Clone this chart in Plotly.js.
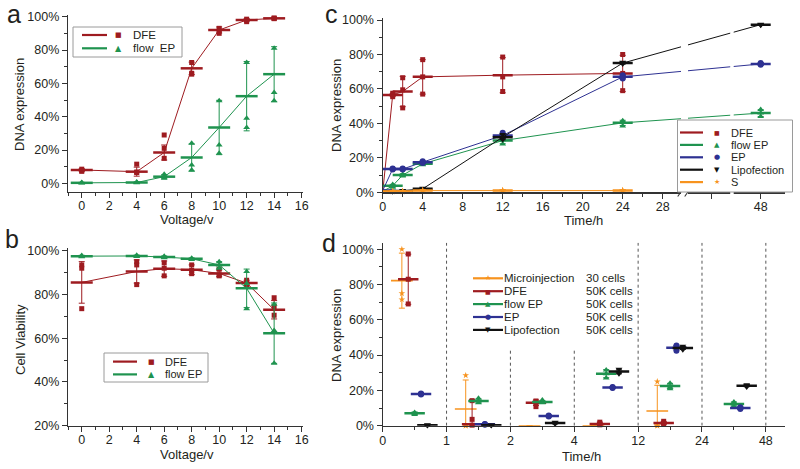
<!DOCTYPE html>
<html><head><meta charset="utf-8">
<script src="https://cdn.plot.ly/plotly-3.0.1.min.js"></script>
<style>html,body{margin:0;padding:0;background:#fff}#chart{width:800px;height:469px}</style>
</head><body><div id="chart"></div>
<script>
// ================= DATA =================
// Panel a: DNA expression vs voltage
const aVoltage = [0, 4, 6, 8, 10, 12, 14];
const aPtsV = [0,0,0, 4,4,4, 6,6,6, 8,8,8, 10,10,10, 12,12,12, 14,14,14];
const aDfeMean = [8, 7, 18.5, 69, 92, 98, 99];
const aDfeErr = [0.8, 2.7, 4.5, 3.7, 1.8, 0.8, 0.3];
const aDfePts = [8.5,7.6,7.2, 11.5,6.8,6.5, 29,21,15, 72.5,66,65.5, 93,91.5,90, 98.5,97.8,97, 99.2,99,98.8];
const aFepMean = [0.3, 0.5, 4, 15.5, 33.5, 52.3, 65.5];
const aFepErr = [0.3, 0.4, 1.2, 8.2, 16.3, 20.8, 16.5];
const aFepPts = [0.5,0.3,0.2, 0.8,0.5,0.3, 5.5,4,3, 24,11,8, 49.5,23,18, 72.5,39,33.5, 81,54.5,49.5];

// Panel b: cell viability vs voltage
const bDfeMean = [85.5, 90.5, 91.8, 91.3, 89.6, 85.2, 73];
const bDfeErr = [9.5, 5.3, 3.5, 2.2, 1.5, 1.3, 4.2];
const bDfePts = [93.5,92,73.5, 95,93.5,84.5, 94.5,92,88.5, 93.5,91,89.5, 91.5,89,88.5, 86.5,85,84, 78.5,74.5,70.5];
const bFepMean = [97.5, 97.6, 97.1, 96.3, 93.5, 82.8, 62.3];
const bFepErr = [0.4, 0.4, 0.5, 0.4, 1.5, 8.8, 13.8];
const bFepPts = [97.8,97.5,97.2, 97.9,97.6,97.3, 97.5,97,96.8, 96.6,96.3,96, 95,93.5,92, 90.5,85,73.5, 75.5,63.5,48.5];

// Panel c: DNA expression vs time (broken axis between 28 h and 48 h)
const cTime = [0, 1, 2, 4, 12, 24, 48];
const cPtsT = [1,1,1, 2,2,2, 4,4,4, 12,12,12, 24,24,24, 48,48,48];
const cPtsT24 = [1,1,1, 2,2,2, 4,4,4, 12,12,12, 24,24,24];
const cDfeMean = [0, 56.5, 58.5, 67, 68, 69, null];
const cDfeErr = [0, 0.8, 8.8, 10, 10.2, 10.5, null];
const cDfePts = [57.5,56.5,55.5, 66.5,59.5,49, 77,67,57, 78.5,67,58.5, 80,69,59];
const cFepMean = [0.5, 3.8, 10, 16.5, 30, 40.3, 46];
const cFepErr = [0.3, 0.8, 0.8, 0.8, 1.8, 1.5, 2];
const cFepPts = [4.5,3.8,3, 10.5,10,9.5, 17,16.5,16, 31.5,30.5,28, 41.5,40.5,38.5, 48,46,44];
const cEpMean = [1, 13.5, 13.5, 17.5, 33, 67, 74.5];
const cEpErr = [0.3, 0.5, 0.5, 0.8, 1.2, 1.2, 0.8];
const cEpPts = [13.8,13.5,13.2, 13.8,13.5,13.2, 18,17.5,17, 34.5,33,32, 68,67,66, 75,74.5,74];
const cLipoMean = [0.3, 0.5, 0.8, 2, 32, 75, 97.3];
const cLipoErr = [0.2, 0.2, 0.3, 0.5, 1.5, 0.6, 0.4];
const cLipoPts = [0.6,0.5,0.4, 1,0.8,0.6, 2.4,2,1.6, 33.5,32,30.5, 75.5,75,74.5, 97.6,97.3,97];
const cSMean = [0.3, 0.5, 0.5, 1, 1, 1, null];
const cSErr = [0.1, 0.1, 0.1, 0.2, 0.2, 0.2, null];
const cSPts = [0.6,0.5,0.4, 0.6,0.5,0.4, 1.2,1,0.8, 1.2,1,0.8, 1.2,1,0.8];
const cTickHours = [0, 4, 8, 12, 16, 20, 24, 28, 40, 48];
const cTickText = ['0','4','8','12','16','20','24','28','','48'];
const cMinorHours = [2, 6, 10, 14, 18, 22, 26];

// Panel d: DNA expression per time interval, by method
const dTickText = ['0', '1', '2', '4', '12', '24', '48'];
const dGroup = [0, 1, 2, 3, 4, 5];
const dPtsG = [0,0,0, 1,1,1, 2,2,2, 3,3,3, 4,4,4, 5,5,5];
const dMicroMean = [82.2, 9.5, 0, 0, 8.3, null];
const dMicroErrP = [15.6, 16.4, 0, 0, 14.6, null];
const dMicroErrM = [15.6, 9.5, 0, 0, 8.3, null];
const dMicroPtsG = [0,0,0, 1,1,1, 4,4,4];
const dMicroPts = [100,75,71.5, 28.5,0,0, 25,0,0];
const dDfeMean = [83, 0.8, 13, 1, 1.5, null];
const dDfeErrP = [14.2, 14, 1.6, 1, 0.8, null];
const dDfeErrM = [14.2, 0.8, 1.6, 1, 0.8, null];
const dDfePtsG = [0,0,0, 1,1,1, 2,2,2, 3,3,3, 4,4,4];
const dDfePts = [97.3,83,69, 14.2,3.6,0.3, 14,13.2,10.8, 2,1,0.5, 2.5,1.5,1];
const dFepMean = [7, 14, 13.5, 29.5, 22.5, 12.3];
const dFepErr = [0.8, 1.2, 0.8, 2.3, 1.5, 1.2];
const dFepPts = [7.5,7,6.3, 15.5,14,13, 14.5,13.5,13, 31.5,29.5,27, 24,22,21, 13.5,12.3,11];
const dEpMean = [18, 0.8, 5.5, 21.7, 44.2, 10];
const dEpErr = [0.5, 0.3, 0.5, 0.5, 1.3, 0.7];
const dEpPts = [18.3,18,17.7, 1,0.8,0.6, 5.8,5.5,5.2, 22,21.7,21.4, 45.5,44.5,42.5, 10.5,10,9.5];
const dLipoMean = [0.3, 0.2, 1.5, 30.7, 44, 22.7];
const dLipoErr = [0.2, 0.2, 0.5, 1.3, 0.8, 0.6];
const dLipoPts = [0.5,0.3,0.1, 0.4,0.2,0.1, 2,1.5,1, 32,30.5,29.5, 45,44,43, 23.2,22.7,22];
const dMethods = ['Microinjection', 'DFE', 'flow EP', 'EP', 'Lipofection'];
const dCells = ['30 cells', '50K cells', '50K cells', '50K cells', '50K cells'];

// ================= STYLE / LAYOUT =================
const FONT = '"Liberation Sans", Arial, sans-serif';
const TXT = '#231f20';
const C = {dfe:'#9e1b20', fep:'#1f934f', ep:'#2e3192', lipo:'#111111', s:'#f7931e'};
const SYM = {dfe:'square', fep:'triangle-up', ep:'circle', lipo:'triangle-down', s:'star'};
const GLYPH = {dfe:'\u25A0', fep:'\u25B2', ep:'\u25CF', lipo:'\u25BC', s:'\u2605'};
const PX = x => x / 800, PY = y => 1 - y / 469;

// broken-axis position for panel c (48 h drawn after the break)
const cPos = t => (t == null ? null : (t <= 30 ? t : 37.8 + (t - 48) * 0.61));
const dOffset = {s:0.3, dfe:0.4, fep:0.5, ep:0.6, lipo:0.7};

const traces = [];
function addSeries(o) {
  if (o.line) traces.push({type:'scatter', mode:'lines', xaxis:o.xa, yaxis:o.ya, x:o.x, y:o.mean,
    line:{color:o.color, width:1}, hoverinfo:'skip', showlegend:false});
  traces.push({type:'scatter', mode:'markers', xaxis:o.xa, yaxis:o.ya, x:o.x, y:o.mean,
    marker:{size:2, color:'rgba(0,0,0,0)'},
    error_y:{type:'data', symmetric:false, array:o.errP, arrayminus:o.errM || o.errP, color:o.color, thickness:1, width:3},
    error_x:{type:'constant', value:o.half, color:o.color, thickness:o.bar || 2.5, width:0},
    hoverinfo:'skip', showlegend:false});
  traces.push({type:'scatter', mode:'markers', xaxis:o.xa, yaxis:o.ya, x:o.ptsX, y:o.ptsY,
    marker:{symbol:o.symbol, size:o.msize || 6, color:o.color}, cliponaxis:false, showlegend:false});
}

// panel a
addSeries({xa:'x', ya:'y', x:aVoltage, mean:aDfeMean, errP:aDfeErr, ptsX:aPtsV, ptsY:aDfePts, color:C.dfe, symbol:SYM.dfe, half:0.8, line:true, msize:5});
addSeries({xa:'x', ya:'y', x:aVoltage, mean:aFepMean, errP:aFepErr, ptsX:aPtsV, ptsY:aFepPts, color:C.fep, symbol:SYM.fep, half:0.8, line:true, msize:6});
// panel b
addSeries({xa:'x2', ya:'y2', x:aVoltage, mean:bDfeMean, errP:bDfeErr, ptsX:aPtsV, ptsY:bDfePts, color:C.dfe, symbol:SYM.dfe, half:0.8, line:true, msize:5});
addSeries({xa:'x2', ya:'y2', x:aVoltage, mean:bFepMean, errP:bFepErr, ptsX:aPtsV, ptsY:bFepPts, color:C.fep, symbol:SYM.fep, half:0.8, line:true, msize:6});
// panel c
const cX = cTime.map(cPos);
addSeries({xa:'x3', ya:'y3', x:cX, mean:cDfeMean, errP:cDfeErr, ptsX:cPtsT24.map(cPos), ptsY:cDfePts, color:C.dfe, symbol:SYM.dfe, half:1, line:true, msize:5});
addSeries({xa:'x3', ya:'y3', x:cX, mean:cFepMean, errP:cFepErr, ptsX:cPtsT.map(cPos), ptsY:cFepPts, color:C.fep, symbol:SYM.fep, half:1, line:true, msize:6});
addSeries({xa:'x3', ya:'y3', x:cX, mean:cEpMean, errP:cEpErr, ptsX:cPtsT.map(cPos), ptsY:cEpPts, color:C.ep, symbol:SYM.ep, half:1, line:true, msize:6});
addSeries({xa:'x3', ya:'y3', x:cX, mean:cLipoMean, errP:cLipoErr, ptsX:cPtsT.map(cPos), ptsY:cLipoPts, color:C.lipo, symbol:SYM.lipo, half:1, line:true, msize:6});
addSeries({xa:'x3', ya:'y3', x:cX, mean:cSMean, errP:cSErr, ptsX:cPtsT24.map(cPos), ptsY:cSPts, color:C.s, symbol:SYM.s, half:1, line:true, msize:5});
// panel d
const dX = (g, k) => g.map(v => v + dOffset[k]);
addSeries({xa:'x4', ya:'y4', x:dX(dGroup,'s'), mean:dMicroMean, errP:dMicroErrP, errM:dMicroErrM, ptsX:dX(dMicroPtsG,'s'), ptsY:dMicroPts, color:C.s, symbol:SYM.s, half:0.17, msize:5, bar:1.6});
addSeries({xa:'x4', ya:'y4', x:dX(dGroup,'dfe'), mean:dDfeMean, errP:dDfeErrP, errM:dDfeErrM, ptsX:dX(dDfePtsG,'dfe'), ptsY:dDfePts, color:C.dfe, symbol:SYM.dfe, half:0.16, msize:5});
addSeries({xa:'x4', ya:'y4', x:dX(dGroup,'fep'), mean:dFepMean, errP:dFepErr, ptsX:dX(dPtsG,'fep'), ptsY:dFepPts, color:C.fep, symbol:SYM.fep, half:0.16, msize:6});
addSeries({xa:'x4', ya:'y4', x:dX(dGroup,'ep'), mean:dEpMean, errP:dEpErr, ptsX:dX(dPtsG,'ep'), ptsY:dEpPts, color:C.ep, symbol:SYM.ep, half:0.16, msize:6});
addSeries({xa:'x4', ya:'y4', x:dX(dGroup,'lipo'), mean:dLipoMean, errP:dLipoErr, ptsX:dX(dPtsG,'lipo'), ptsY:dLipoPts, color:C.lipo, symbol:SYM.lipo, half:0.16, msize:6});

// ---------- axes ----------
const minorT = {ticks:'outside', ticklen:3, tickwidth:1, tickcolor:'#333', showgrid:false};
function ax(extra) {
  return Object.assign({showline:true, linecolor:'#333', linewidth:1.2, ticks:'outside', ticklen:5, tickwidth:1,
    tickcolor:'#333', showgrid:false, zeroline:false, fixedrange:true,
    tickfont:{family:FONT, size:12.5, color:TXT}}, extra);
}
const yPct = (range, domain, anchor) => ax({range, domain, anchor, tick0:0, dtick:20, ticksuffix:'%',
  minor:Object.assign({tick0:0, dtick:10}, minorT)});

const layout = {
  width:800, height:469, margin:{l:0, r:0, t:0, b:0}, paper_bgcolor:'#fff', plot_bgcolor:'rgba(0,0,0,0)',
  showlegend:false, font:{family:FONT, color:TXT},
  xaxis: ax({domain:[PX(68), PX(303)], range:[-1, 16.1], anchor:'y', tick0:0, dtick:2, ticklabelstandoff:-3,
    minor:Object.assign({tick0:0, dtick:1}, minorT)}),
  yaxis: yPct([-5.2, 101], [PY(192), PY(15)], 'x'),
  xaxis2: ax({domain:[PX(68), PX(303)], range:[-1, 16.1], anchor:'y2', tick0:0, dtick:2, ticklabelstandoff:-3,
    minor:Object.assign({tick0:0, dtick:1}, minorT)}),
  yaxis2: yPct([20, 101.1], [PY(425.7), PY(248.3)], 'x2'),
  xaxis3: ax({domain:[PX(382.7), PX(785)], range:[0, 40.23], anchor:'y3', tickmode:'array', ticklabelstandoff:-3,
    tickvals:cTickHours.map(cPos), ticktext:cTickText,
    minor:Object.assign({tickmode:'array', tickvals:cMinorHours}, minorT)}),
  yaxis3: yPct([0, 101], [PY(192.3), PY(18.3)], 'x3'),
  xaxis4: ax({domain:[PX(382.7), PX(785)], range:[0, 6.3], anchor:'y4', tickmode:'array', ticklabelstandoff:-2,
    tickvals:dTickText.map((t, i) => i), ticktext:dTickText,
    minor:Object.assign({tickmode:'array', tickvals:dGroup.map(g => g + 0.5)}, minorT)}),
  yaxis4: yPct([0, 103.7], [PY(425.7), PY(242.7)], 'x4'),
  shapes:[], annotations:[]
};

// ---------- panel d separators ----------
const dSepTop = [103.7, 44, 44, 103.7, 103.7, 103.7];
dGroup.forEach((g, i) => layout.shapes.push({type:'line', xref:'x4', yref:'y4', x0:g + 1, x1:g + 1, y0:0, y1:dSepTop[i],
  line:{color:'#555', width:1, dash:'3px,3px'}, layer:'below'}));

// ---------- panel c axis break ----------
[[29.83, 30.53], [34.75, 35.1]].forEach(([a, b]) => layout.shapes.push({type:'rect', xref:'x3', yref:'paper',
  x0:a, x1:b, y0:PY(195), y1:PY(18), fillcolor:'#fff', line:{width:0}, layer:'above'}));
[[29.5, 30.1], [30.2, 30.8]].forEach(([a, b]) => layout.shapes.push({type:'line', xref:'x3', yref:'paper',
  x0:a, x1:b, y0:PY(196.5), y1:PY(188), line:{color:'#333', width:1.1}, layer:'above'}));

// ---------- text helpers ----------
function ann(text, x, y, size, o) {
  layout.annotations.push(Object.assign({text, x:PX(x), y:PY(y), xref:'paper', yref:'paper', showarrow:false,
    xanchor:'center', yanchor:'middle', borderwidth:0, borderpad:0, font:{family:FONT, size, color:TXT}}, o || {}));
}
// panel letters
ann('a', 14, 0, 25, {yanchor:'top'});
ann('b', 12, 225.4, 25, {yanchor:'top'});
ann('c', 331, 0, 25, {yanchor:'top'});
ann('d', 329, 229.4, 25, {yanchor:'top'});
// axis titles
ann('DNA expression', 20, 105, 13, {textangle:-90});
ann('Cell Viability', 20, 340, 13, {textangle:-90});
ann('DNA expression', 336, 106, 13, {textangle:-90});
ann('DNA expression', 336, 336, 13, {textangle:-90});
ann('Voltage/v', 187, 219, 13);
ann('Voltage/v', 187, 454, 13);
ann('Time/h', 583, 220, 13);
ann('Time/h', 581, 456, 13);

// ---------- manual legends ----------
function legendBox(x0, y0, x1, y1, border) {
  layout.shapes.push({type:'rect', xref:'paper', yref:'paper', x0:PX(x0), x1:PX(x1), y0:PY(y1), y1:PY(y0),
    fillcolor:'#fff', line:{color:border ? '#9a9a9a' : 'rgba(0,0,0,0)', width:1}, layer:'above'});
}
function legendRow(key, label, lx0, lx1, gx, tx, y, gsize, fsize) {
  layout.shapes.push({type:'line', xref:'paper', yref:'paper', x0:PX(lx0), x1:PX(lx1), y0:PY(y), y1:PY(y),
    line:{color:C[key], width:2.2}, layer:'above'});
  ann(GLYPH[key], gx, y, gsize, {font:{family:'DejaVu Sans', size:gsize, color:C[key]}});
  ann(label, tx, y, fsize, {xanchor:'left'});
}
legendBox(73, 27, 182, 57, true);
legendRow('dfe', 'DFE', 82, 107, 118, 133, 35, 7, 11.5);
legendRow('fep', 'flow  EP', 82, 107, 118, 133, 48.3, 8, 11.5);
legendBox(104, 353, 208, 382, true);
legendRow('dfe', 'DFE', 113, 137, 151, 165, 361.6, 7, 11);
legendRow('fep', 'flow EP', 113, 137, 151, 165, 374.4, 8, 11);
legendBox(677.5, 120, 792.5, 192, true);
const cKeys = ['dfe', 'fep', 'ep', 'lipo', 's'];
const cNames = ['DFE', 'flow EP', 'EP', 'Lipofection', 'S'];
const cRowY = [132.5, 144.9, 157.3, 169.7, 182.1];
cKeys.forEach((k, i) => legendRow(k, cNames[i], 680, 703, 717, 731, cRowY[i], k === 'dfe' ? 6 : 7, 11));
const dKeys = ['s', 'dfe', 'fep', 'ep', 'lipo'];
const dRowY = [278.3, 291.2, 304.1, 317, 329.9];
dKeys.forEach((k, i) => {
  legendRow(k, dMethods[i], 473, 503, 488, 504, dRowY[i], k === 'dfe' ? 6 : 7, 11.5);
  ann(dCells[i], 586, dRowY[i], 11.5, {xanchor:'left'});
});

Plotly.newPlot('chart', traces, layout, {displayModeBar:false, staticPlot:true});
</script>
</body></html>
